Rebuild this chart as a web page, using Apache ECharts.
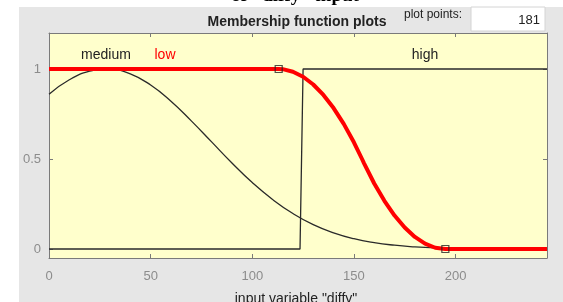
<!DOCTYPE html>
<html>
<head>
<meta charset="utf-8">
<script src="https://cdn.jsdelivr.net/npm/echarts@6/dist/echarts.min.js"></script>
<style>
  html, body { margin: 0; padding: 0; background: #ffffff; }
  #bg { position: absolute; left: 19px; top: 7px; width: 544px; height: 295px; background: #e6e6e6; }
  #chart { position: absolute; left: 0; top: 0; width: 563px; height: 302px; }
</style>
</head>
<body>
<div id="bg"></div>
<div id="chart"></div>
<script>
// x ticks / y ticks
const xTicks = [0, 50, 100, 150, 200]
const yTicks = [0, 0.5, 1]

// "medium" membership
const mediumX = [0, 10, 20, 28, 30, 40, 50, 60, 70, 80, 90, 100, 110, 120, 130, 140, 150, 160, 170, 180, 190, 200, 210, 220, 230, 245]
const mediumY = [0.86, 0.94, 0.988, 1, 0.999, 0.973, 0.911, 0.821, 0.712, 0.595, 0.478, 0.369, 0.275, 0.197, 0.135, 0.09, 0.057, 0.035, 0.021, 0.012, 0.006, 0.003, 0.002, 0.001, 0, 0]

// "low" membership
const lowX = [0, 113, 115, 120, 125, 130, 135, 140, 145, 150, 154, 155, 160, 165, 170, 175, 180, 185, 190, 195, 245]
const lowY = [1, 1, 0.999, 0.985, 0.957, 0.914, 0.856, 0.783, 0.695, 0.593, 0.5, 0.476, 0.364, 0.268, 0.186, 0.119, 0.067, 0.03, 0.007, 0, 0]

// "high" membership
const highX = [0, 123.5, 125, 245]
const highY = [0, 0, 1, 1]

// selected mf handles
const handleX = [113, 195]
const handleY = [1, 0]

const zip = (xs, ys) => xs.map((x, i) => [x, ys[i]])

const axisGray = '#7a7a7a'
const labelGray = '#8c8c8c'
const font = '"Liberation Sans"'

const chart = echarts.init(document.getElementById('chart'))
chart.setOption({
  backgroundColor: 'transparent',
  animation: false,
  grid: {
    left: 49, right: 16, top: 33, bottom: 44,
    show: true,
    backgroundColor: '#ffffcc',
    borderWidth: 0,
  },
  xAxis: [
    {
      type: 'value', min: 0, max: 245, position: 'bottom',
      axisLine: { show: true, onZero: false, lineStyle: { color: axisGray } },
      axisTick: { show: true, inside: true, length: 4, customValues: xTicks, lineStyle: { color: axisGray } },
      axisLabel: { customValues: xTicks, color: labelGray, fontSize: 13, fontFamily: 'Liberation Sans', margin: 12 },
      splitLine: { show: false },
    },
    {
      type: 'value', min: 0, max: 245, position: 'top',
      axisLine: { show: true, onZero: false, lineStyle: { color: axisGray } },
      axisTick: { show: true, inside: true, length: 4, customValues: xTicks, lineStyle: { color: axisGray } },
      axisLabel: { show: false },
      splitLine: { show: false },
    },
  ],
  yAxis: [
    {
      type: 'value', min: -0.05, max: 1.2, position: 'left',
      axisLine: { show: true, onZero: false, lineStyle: { color: axisGray } },
      axisTick: { show: true, inside: true, length: 4, customValues: yTicks, lineStyle: { color: axisGray } },
      axisLabel: { customValues: yTicks, color: labelGray, fontSize: 13, fontFamily: 'Liberation Sans', margin: 8 },
      splitLine: { show: false },
    },
    {
      type: 'value', min: -0.05, max: 1.2, position: 'right',
      axisLine: { show: true, onZero: false, lineStyle: { color: axisGray } },
      axisTick: { show: true, inside: true, length: 4, customValues: yTicks, lineStyle: { color: axisGray } },
      axisLabel: { show: false },
      splitLine: { show: false },
    },
  ],
  series: [
    {
      name: 'high', type: 'line', data: zip(highX, highY),
      showSymbol: false, lineStyle: { color: '#2a2a2a', width: 1.3 }, z: 3,
    },
    {
      name: 'medium', type: 'line', data: zip(mediumX, mediumY), smooth: true,
      showSymbol: false, lineStyle: { color: '#2a2a2a', width: 1.3 }, z: 3,
    },
    {
      name: 'low', type: 'line', data: zip(lowX, lowY),
      showSymbol: false, lineStyle: { color: '#ff0000', width: 4 }, z: 4,
    },
    {
      name: 'handles', type: 'scatter', data: zip(handleX, handleY),
      symbol: 'rect', symbolSize: 7,
      itemStyle: { color: 'transparent', borderColor: '#222', borderWidth: 1.2 }, z: 5,
    },
  ],
  graphic: [
    { type: 'text', x: 295, y: 6, style: { text: 'of "diffy" input', font: 'bold 19px "Liberation Serif"', fill: '#000', align: 'center', verticalAlign: 'bottom' } },
    { type: 'text', x: 297, y: 22, style: { text: 'Membership function plots', font: 'bold 14px ' + font, fill: '#222', align: 'center', verticalAlign: 'middle' } },
    { type: 'rect', shape: { x: 471, y: 7, width: 74, height: 24 }, style: { fill: '#ffffff', stroke: '#d4d4d4', lineWidth: 1 } },
    { type: 'text', x: 433, y: 15, style: { text: 'plot points:', font: '12px ' + font, fill: '#222', align: 'center', verticalAlign: 'middle' } },
    { type: 'text', x: 540, y: 20, style: { text: '181', font: '13px ' + font, fill: '#222', align: 'right', verticalAlign: 'middle' } },
    { type: 'text', x: 106, y: 55, style: { text: 'medium', font: '14px ' + font, fill: '#222', align: 'center', verticalAlign: 'middle' } },
    { type: 'text', x: 165, y: 55, style: { text: 'low', font: '14px ' + font, fill: '#ff0000', align: 'center', verticalAlign: 'middle' } },
    { type: 'text', x: 425, y: 55, style: { text: 'high', font: '14px ' + font, fill: '#222', align: 'center', verticalAlign: 'middle' } },
    { type: 'text', x: 296, y: 292, style: { text: 'input variable "diffy"', font: '14px ' + font, fill: '#222', align: 'center', verticalAlign: 'top' } },
  ],
})
</script>
</body>
</html>
